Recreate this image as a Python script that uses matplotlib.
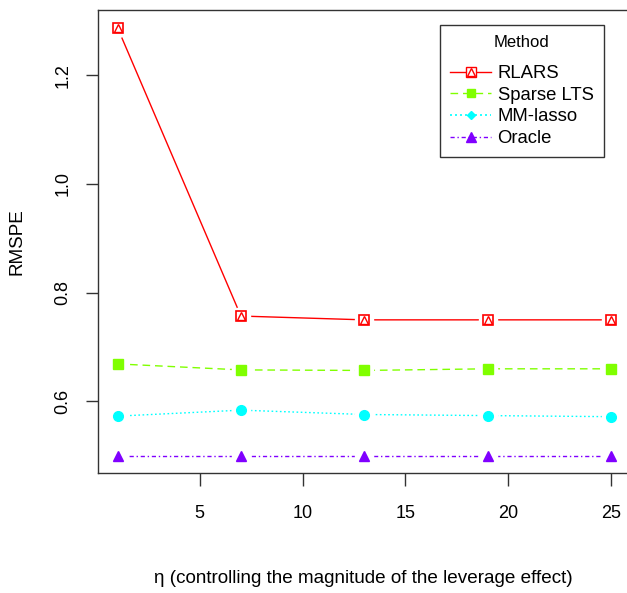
import matplotlib
matplotlib.use("Agg")
import matplotlib.pyplot as plt
from matplotlib.lines import Line2D

plt.rcParams['font.family'] = ['Liberation Sans', 'DejaVu Sans']

# eta values and RMSPE per method
eta = [1, 7, 13, 19, 25]
rlars = [1.287, 0.757, 0.750, 0.750, 0.750]
sparse_lts = [0.669, 0.658, 0.657, 0.660, 0.660]
mm_lasso = [0.573, 0.584, 0.576, 0.574, 0.572]
oracle = [0.500, 0.500, 0.500, 0.500, 0.500]

methods = ["RLARS", "Sparse LTS", "MM-lasso", "Oracle"]
colors = ["#FF0000", "#80FF00", "#00FFFF", "#8000FF"]
styles = ["-", (0, (5.5, 3.5)), (0, (1.2, 1.8)), (0, (3, 2, 1, 2))]

fig = plt.figure(figsize=(6.27, 5.93), dpi=100)
ax = fig.add_axes([0.156, 0.2024, 0.85, 0.7806])

series = [rlars, sparse_lts, mm_lasso, oracle]
for vals, c, ls in zip(series, colors, styles):
    ax.plot(eta, vals, color=c, ls=ls, lw=1, zorder=2)
    # white blob so the line stops short of the point (R type="b")
    ax.plot(eta, vals, ls='none', marker='o', ms=14, mfc='white', mec='none', zorder=3)

# RLARS: R pch 14 (square with triangle inside)
ax.plot(eta, rlars, ls='none', marker='s', ms=7.5, mfc='white', mec=colors[0], mew=1.2, zorder=4)
ax.plot(eta, rlars, ls='none', marker='^', ms=5.5, mfc='none', mec=colors[0], mew=1.0, zorder=5)
ax.plot(eta, sparse_lts, ls='none', marker='s', ms=6.8, color=colors[1], zorder=4)
ax.plot(eta, mm_lasso, ls='none', marker='o', ms=7, color=colors[2], zorder=4)
ax.plot(eta, oracle, ls='none', marker='^', ms=7.5, color=colors[3], zorder=4)

ax.set_xlim(0.04, 25.96)
ax.set_ylim(0.4685, 1.3195)
ax.set_xticks([5, 10, 15, 20, 25])
ax.set_yticks([0.6, 0.8, 1.0, 1.2])
ax.set_yticklabels(["0.6", "0.8", "1.0", "1.2"], rotation=90, va='center')
ax.tick_params(axis='both', length=9, width=1, colors='#333333', labelcolor='black',
               labelsize=13)
ax.tick_params(axis='x', pad=14)
ax.tick_params(axis='y', pad=10)
for s in ax.spines.values():
    s.set_color('#333333')
    s.set_linewidth(1)

fig.text(0.027, 0.592, "RMSPE", rotation=90, ha='center', va='center', fontsize=13.6)
fig.text(0.579, 0.025, "η (controlling the magnitude of the leverage effect)",
         ha='center', va='center', fontsize=13.6)

handles = [
    (Line2D([], [], color=colors[0], ls='-', lw=1, marker='s', ms=7.5, mfc='white',
            mec=colors[0]),
     Line2D([], [], ls='none', marker='^', ms=5.5, mfc='none', mec=colors[0])),
    Line2D([], [], color=colors[1], ls=styles[1], lw=1, marker='s', ms=6),
    Line2D([], [], color=colors[2], ls=styles[2], lw=1.2, marker='D', ms=4.5),
    Line2D([], [], color=colors[3], ls=styles[3], lw=1, marker='^', ms=6.5),
]
leg = ax.legend(handles, methods, title="Method", loc='upper right',
                bbox_to_anchor=(0.949, 0.9676), fontsize=13.3, title_fontsize=12,
                frameon=True, fancybox=False, edgecolor='black', handlelength=2.2,
                labelspacing=0.25, borderpad=0.55, handletextpad=0.35, borderaxespad=0)
leg.get_frame().set_linewidth(1)
leg._legend_box.sep = 10.8

fig.savefig("out.png", dpi=100)
